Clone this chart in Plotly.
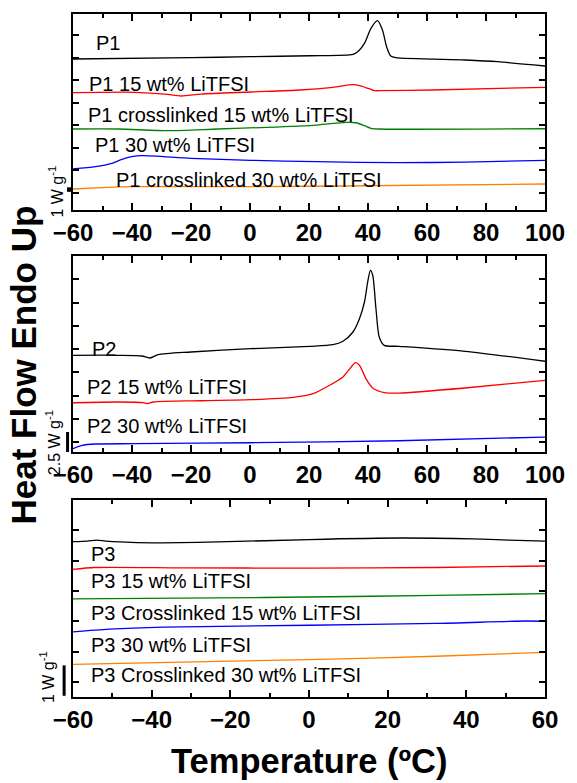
import plotly.graph_objects as go

# ---- Panel 1: P1 samples, -60..100 degC (heat flow, W/g, stacked with offsets) ----
p1_x = [-60, -20, 0.2, 20.3, 34.9, 36.5, 38.8, 41.0, 43.2, 44.9, 46.3, 47.7, 49.4, 72.9, 84.0, 100]
p1_y = [29.67, 29.96, 30.18, 30.40, 30.71, 31.29, 33.16, 36.48, 38.17, 36.11, 32.40, 30.34, 29.96, 29.45, 29.07, 28.12]

p1_15_x = [-60, -50.2, -39, -28.9, -23.3, -16.6, 0.2, 17, 28.1, 34.9, 37.7, 40.4, 42.1, 43.8, 61.7, 100]
p1_15_y = [22.19, 22.28, 22.28, 21.90, 21.46, 21.90, 22.35, 22.79, 23.39, 23.97, 23.68, 23.08, 22.64, 22.64, 22.79, 23.39]

p1_x15_x = [-60, -44.6, -27.8, -11, 5.8, 22.6, 32.6, 36, 38.8, 41, 43.8, 100]
p1_x15_y = [14.14, 14.14, 13.76, 14.14, 14.51, 15.02, 15.62, 15.53, 14.87, 14.29, 14.14, 14.20]

p1_30_x = [-60, -52.4, -46.8, -43.4, -40.1, -36.7, -20, 0.2, 22.6, 50.5, 72.9, 100]
p1_30_y = [5.26, 5.77, 6.52, 7.41, 7.99, 8.21, 7.63, 7.19, 6.88, 6.66, 6.81, 7.19]

p1_x30_x = [-60, -50.2, -39, 0.2, 39.3, 100]
p1_x30_y = [0.82, 1.11, 1.33, 1.33, 1.55, 1.93]

# ---- Panel 2: P2 samples ----
p2_x = [-60, -44.6, -36.7, -33.9, -31.1, -20, 0.2, 20.3, 28.1, 31.5, 34.9, 37.1, 38.8, 39.9,
        40.8, 41.6, 42.7, 43.8, 45.5, 50.5, 72.9, 100]
p2_y = [10.84, 10.84, 10.75, 10.50, 10.92, 11.25, 11.66, 11.96, 12.16, 12.59, 13.75, 15.41, 17.50, 20.00,
        21.46, 20.84, 16.66, 13.12, 12.08, 11.96, 11.34, 10.09]

p2_15_x = [-60, -44.6, -36.2, -34.7, -32.8, -16.6, 0.2, 14.7, 21.4, 27, 31.5, 34.3, 35.7, 37.1,
           39.3, 41.6, 45.5, 50.5, 72.9, 100]
p2_15_y = [4.91, 5.00, 4.91, 4.79, 5.00, 5.16, 5.29, 5.58, 6.04, 7.09, 8.13, 9.38, 9.91, 9.59,
           7.92, 6.75, 6.17, 6.12, 6.75, 7.71]

p2_30_x = [-60, -56.9, -52.4, -39, 0.2, 50.5, 100]
p2_30_y = [-0.84, -0.41, -0.25, -0.21, -0.09, 0.16, 0.62]

# ---- Panel 3: P3 samples, -60..60 degC ----
p3_x = [-60, -56.3, -54, -51.7, -48, -39.7, -23.1, 0, 23.1, 41.6, 50.8, 60]
p3_y = [4.62, 4.64, 4.67, 4.64, 4.61, 4.58, 4.61, 4.69, 4.74, 4.71, 4.67, 4.64]

p3_15_x = [-60, -54.5, -32.3, 0, 32.3, 60]
p3_15_y = [3.71, 3.77, 3.76, 3.75, 3.77, 3.82]

p3_x15_x = [-60, -23.1, 0, 32.3, 60]
p3_x15_y = [2.74, 2.77, 2.80, 2.85, 2.91]

p3_30_x = [-60, -50.8, -36.9, 0, 32.3, 55.4, 60]
p3_30_y = [1.65, 1.74, 1.81, 1.87, 1.93, 2.01, 2.00]

p3_x30_x = [-60, -32.3, 0, 32.3, 60]
p3_x30_y = [0.58, 0.66, 0.74, 0.85, 0.98]

# curve labels: (text, x, y, panel)
labels = [
    ("P1", -53.0, 33.2, 1),
    ("P1 15 wt% LiTFSI", -55.2, 24.1, 1),
    ("P1 crosslinked 15 wt% LiTFSI", -55.7, 17.2, 1),
    ("P1 30 wt% LiTFSI", -53.3, 10.6, 1),
    ("P1 crosslinked 30 wt% LiTFSI", -46.2, 2.8, 1),
    ("P2", -54.1, 11.66, 2),
    ("P2 15 wt% LiTFSI", -56.0, 6.88, 2),
    ("P2 30 wt% LiTFSI", -56.0, 1.96, 2),
    ("P3", -56.0, 4.21, 3),
    ("P3 15 wt% LiTFSI", -56.0, 3.33, 3),
    ("P3 Crosslinked 15 wt% LiTFSI", -56.0, 2.28, 3),
    ("P3 30 wt% LiTFSI", -56.0, 1.23, 3),
    ("P3 Crosslinked 30 wt% LiTFSI", -56.0, 0.25, 3),
]

BLACK, RED, GREEN, BLUE, ORANGE = "#000000", "#ff0000", "#008000", "#0000ff", "#ff8000"

series = [
    (p1_x, p1_y, BLACK, 1), (p1_15_x, p1_15_y, RED, 1), (p1_x15_x, p1_x15_y, GREEN, 1),
    (p1_30_x, p1_30_y, BLUE, 1), (p1_x30_x, p1_x30_y, ORANGE, 1),
    (p2_x, p2_y, BLACK, 2), (p2_15_x, p2_15_y, RED, 2), (p2_30_x, p2_30_y, BLUE, 2),
    (p3_x, p3_y, BLACK, 3), (p3_15_x, p3_15_y, RED, 3), (p3_x15_x, p3_x15_y, GREEN, 3),
    (p3_30_x, p3_30_y, BLUE, 3), (p3_x30_x, p3_x30_y, ORANGE, 3),
]

FONT = "Liberation Sans, Arial, Helvetica, sans-serif"

fig = go.Figure()
for xs, ys, col, panel in series:
    suffix = "" if panel == 1 else str(panel)
    fig.add_trace(go.Scatter(
        x=xs, y=ys, mode="lines",
        line=dict(color=col, width=1.3, shape="spline", smoothing=0.7),
        xaxis="x" + suffix, yaxis="y" + suffix, showlegend=False, hoverinfo="skip",
    ))

y_domains = {1: [0.7130, 1.0], 2: [0.3587, 0.6457], 3: [0.0, 0.2884]}
y_ranges = {1: [-3.84, 39.66], 2: [-1.25, 23.25], 3: [-0.49, 5.99]}
y_dticks = {1: 5, 2: 2.905, 3: 1}
x_ranges = {1: [-60, 100], 2: [-60, 100], 3: [-60, 60]}

layout = dict(
    width=577, height=783,
    margin=dict(l=73, r=25, t=14, b=86),
    paper_bgcolor="white", plot_bgcolor="white",
    font=dict(family=FONT, color="black"),
)
for p in (1, 2, 3):
    s = "" if p == 1 else str(p)
    layout["xaxis" + s] = dict(
        domain=[0, 1], anchor="y" + s, range=x_ranges[p],
        showgrid=False, zeroline=False,
        showline=True, linecolor="black", linewidth=2, mirror="ticks",
        ticks="inside", ticklen=7, tickwidth=1.6, tickcolor="black",
        tick0=-60, dtick=20,
        minor=dict(ticks="inside", ticklen=4, tickwidth=1.6, tickcolor="black", dtick=10, showgrid=False),
        tickfont=dict(family=FONT, size=24, weight="bold", color="black"),
        ticklabelstandoff=0,
    )
    layout["yaxis" + s] = dict(
        domain=y_domains[p], anchor="x" + s, range=y_ranges[p],
        showgrid=False, zeroline=False,
        showline=True, linecolor="black", linewidth=2, mirror="ticks",
        ticks="inside", ticklen=6, tickwidth=1.6, tickcolor="black",
        tick0=0, dtick=y_dticks[p], showticklabels=False,
    )
fig.update_layout(**layout)

annotations = []
for text, x, y, p in labels:
    s = "" if p == 1 else str(p)
    annotations.append(dict(
        text=text, x=x, y=y, xref="x" + s, yref="y" + s,
        xanchor="left", yanchor="middle", showarrow=False,
        font=dict(family=FONT, size=20, color="black"),
    ))

# scale bars (1, 2.5 and 1 W/g) with their rotated captions, just left of each frame
scale_bars = [
    # (panel, x paper, y0, y1, caption, caption x paper, caption y, bar width)
    (1, -0.0063, 0.2, 1.2, "1 W g<sup>-1</sup>", -0.035, 0.35, 6),
    (2, -0.0115, -1.25, 1.25, "2.5 W g<sup>-1</sup>", -0.042, -0.125, 3),
    (3, -0.0188, -0.45, 0.55, "1 W g<sup>-1</sup>", -0.056, 0.15, 3),
]
shapes = []
for p, xp, y0, y1, cap, cx, cy, w in scale_bars:
    s = "" if p == 1 else str(p)
    shapes.append(dict(type="line", xref="paper", yref="y" + s,
                       x0=xp, x1=xp, y0=y0, y1=y1, line=dict(color="black", width=w)))
    annotations.append(dict(
        text=cap, x=cx, y=cy, xref="paper", yref="y" + s,
        xanchor="center", yanchor="middle", textangle=-90, showarrow=False,
        font=dict(family=FONT, size=16, color="black"),
    ))

# axis titles
annotations.append(dict(
    text="Temperature (ºC)", x=0.5, y=-0.093, xref="paper", yref="paper",
    xanchor="center", yanchor="middle", showarrow=False,
    font=dict(family=FONT, size=34.5, weight="bold", color="black"),
))
annotations.append(dict(
    text="Heat Flow Endo Up", x=-0.105, y=0.486, xref="paper", yref="paper",
    xanchor="center", yanchor="middle", textangle=-90, showarrow=False,
    font=dict(family=FONT, size=35, weight="bold", color="black"),
))

fig.update_layout(annotations=annotations, shapes=shapes)
fig.write_html("out.html")
